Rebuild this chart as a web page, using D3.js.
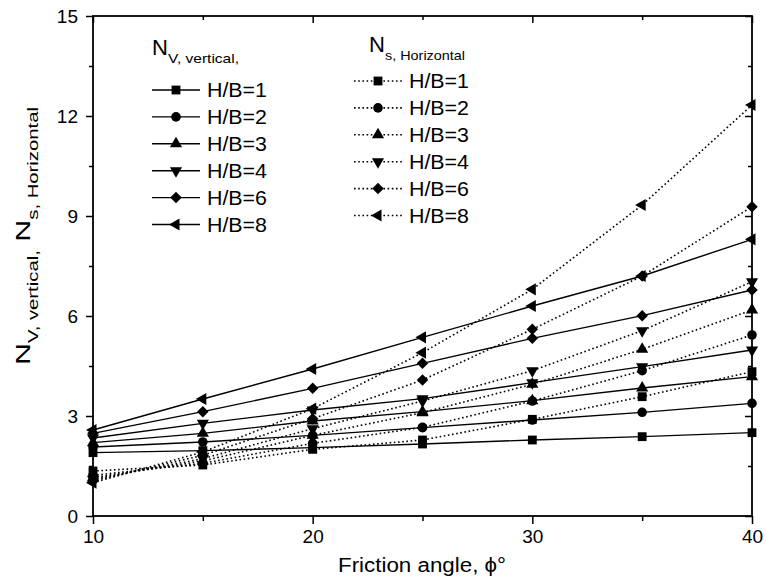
<!DOCTYPE html>
<html>
<head>
<meta charset="utf-8">
<script src="https://cdn.jsdelivr.net/npm/d3@7"></script>
<style>
  html, body { margin: 0; padding: 0; background: #fff; }
  svg { display: block; font-family: "Liberation Sans", Arial, sans-serif; }
</style>
</head>
<body>
<svg id="chart" width="766" height="580"></svg>
<script>
// Friction angle (degrees)
const angles = [10, 15, 20, 25, 30, 35, 40];
const ratios = ["H/B=1", "H/B=2", "H/B=3", "H/B=4", "H/B=6", "H/B=8"];

// Vertical factor N_V for each H/B ratio
const nvHB1 = [1.90, 1.96, 2.05, 2.16, 2.28, 2.38, 2.50];
const nvHB2 = [2.07, 2.22, 2.42, 2.65, 2.88, 3.11, 3.38];
const nvHB3 = [2.20, 2.48, 2.85, 3.13, 3.46, 3.84, 4.18];
const nvHB4 = [2.34, 2.78, 3.18, 3.52, 4.00, 4.48, 4.98];
const nvHB6 = [2.48, 3.13, 3.83, 4.58, 5.33, 6.01, 6.78];
const nvHB8 = [2.58, 3.51, 4.41, 5.36, 6.30, 7.20, 8.30];

// Horizontal factor N_s for each H/B ratio
const nsHB1 = [1.35, 1.53, 2.00, 2.28, 2.90, 3.58, 4.33];
const nsHB2 = [1.22, 1.58, 2.18, 2.66, 3.45, 4.36, 5.43];
const nsHB3 = [1.15, 1.65, 2.42, 3.10, 3.95, 5.00, 6.18];
const nsHB4 = [1.10, 1.72, 2.62, 3.45, 4.36, 5.56, 7.03];
const nsHB6 = [1.05, 1.82, 2.92, 4.08, 5.60, 7.20, 9.28];
const nsHB8 = [1.00, 1.92, 3.22, 4.90, 6.80, 9.33, 12.33];

const xTicks = [10, 20, 30, 40];
const yTicks = [0, 3, 6, 9, 12, 15];

const vertical = [nvHB1, nvHB2, nvHB3, nvHB4, nvHB6, nvHB8];
const horizontal = [nsHB1, nsHB2, nsHB3, nsHB4, nsHB6, nsHB8];

const svg = d3.select("#chart");
const plotL = 93, plotR = 752, plotT = 16, plotB = 516;

const x = d3.scaleLinear().domain([10, 40]).range([plotL, plotR]);
const y = d3.scaleLinear().domain([0, 15]).range([plotB, plotT]);

// marker shapes: square, circle, up/down triangle, diamond, left triangle
const markers = [
  { type: d3.symbolSquare, size: 78, rot: 0 },
  { type: d3.symbolCircle, size: 72, rot: 0 },
  { type: d3.symbolTriangle, size: 64, rot: 0 },
  { type: d3.symbolTriangle, size: 64, rot: 180 },
  { type: d3.symbolSquare, size: 66, rot: 45 },
  { type: d3.symbolTriangle, size: 64, rot: -90 }
];
function drawMarker(g, m, cx, cy) {
  g.append("path")
    .attr("d", d3.symbol().type(m.type).size(m.size)())
    .attr("transform", `translate(${cx},${cy}) rotate(${m.rot})`)
    .attr("fill", "#000");
}

const line = d3.line().x((d, i) => x(angles[i])).y(d => y(d));
const plot = svg.append("g");

function drawSeries(values, m, dotted) {
  plot.append("path")
    .datum(values)
    .attr("d", line)
    .attr("fill", "none")
    .attr("stroke", "#000")
    .attr("stroke-width", dotted ? 1.6 : 1.4)
    .attr("stroke-dasharray", dotted ? "1.6,2.6" : null);
  values.forEach((v, i) => drawMarker(plot, m, x(angles[i]), y(v)));
}
horizontal.forEach((vals, k) => drawSeries(vals, markers[k], true));
vertical.forEach((vals, k) => drawSeries(vals, markers[k], false));

// axes: outward ticks on bottom/left, inward mirrored ticks on top/right
const xMinor = [15, 25, 35];
const yMinor = [1.5, 4.5, 7.5, 10.5, 13.5];
function axisGroup(gen, tx, ty) {
  const g = svg.append("g").attr("transform", `translate(${tx},${ty})`).call(gen);
  g.select(".domain").remove();
  g.selectAll("line").attr("stroke", "#000").attr("stroke-width", 1.5);
  return g;
}
const bx = axisGroup(d3.axisBottom(x).tickValues(xTicks).tickSize(8).tickPadding(6).tickFormat(d3.format("d")), 0, plotB);
bx.selectAll("text").attr("font-size", 19).attr("fill", "#000");
axisGroup(d3.axisBottom(x).tickValues(xMinor).tickSize(5).tickFormat(""), 0, plotB);
const ly = axisGroup(d3.axisLeft(y).tickValues(yTicks).tickSize(7).tickPadding(8).tickFormat(d3.format("d")), plotL, 0);
ly.selectAll("text").attr("font-size", 19).attr("fill", "#000");
axisGroup(d3.axisLeft(y).tickValues(yMinor).tickSize(4).tickFormat(""), plotL, 0);
axisGroup(d3.axisBottom(x).tickValues(xTicks).tickSize(7).tickFormat(""), 0, plotT);
axisGroup(d3.axisBottom(x).tickValues(xMinor).tickSize(4).tickFormat(""), 0, plotT);
axisGroup(d3.axisLeft(y).tickValues(yTicks).tickSize(7).tickFormat(""), plotR, 0);
axisGroup(d3.axisLeft(y).tickValues(yMinor).tickSize(4).tickFormat(""), plotR, 0);

svg.append("rect")
  .attr("x", plotL).attr("y", plotT)
  .attr("width", plotR - plotL).attr("height", plotB - plotT)
  .attr("fill", "none").attr("stroke", "#000").attr("stroke-width", 1.8);

// axis titles
svg.append("text")
  .attr("x", 338).attr("y", 572)
  .attr("font-size", 20)
  .attr("textLength", 168).attr("lengthAdjust", "spacingAndGlyphs")
  .text("Friction angle, \u03d5\u00b0");

// y title, widened along its baseline
const yl = svg.append("text")
  .attr("transform", "translate(30,236) rotate(-90) scale(1.45,1)")
  .attr("text-anchor", "middle").attr("font-size", 21);
yl.append("tspan").text("N");
yl.append("tspan").attr("font-size", 14).attr("dy", 8).text("V, vertical,");
yl.append("tspan").attr("dy", -8).text(" N");
yl.append("tspan").attr("font-size", 14).attr("dy", 8).text("s, Horizontal");

// legends: a title with a subscript, then one row per H/B ratio
function legend(title, sub, subLen, tx, ty, lx, rowY, dotted) {
  svg.append("text").attr("x", tx).attr("y", ty).attr("font-size", 22).text(title);
  svg.append("text")
    .attr("x", tx + 16).attr("y", ty + 8)
    .attr("font-size", 13)
    .attr("textLength", subLen).attr("lengthAdjust", "spacingAndGlyphs")
    .text(sub);
  const lg = svg.append("g");
  ratios.forEach((r, k) => {
    const ry = rowY + k * 26.9;
    lg.append("line")
      .attr("x1", lx).attr("x2", lx + 48).attr("y1", ry).attr("y2", ry)
      .attr("stroke", "#000")
      .attr("stroke-width", dotted ? 1.6 : 1.4)
      .attr("stroke-dasharray", dotted ? "1.6,2.6" : null);
    drawMarker(lg, markers[k], lx + 24, ry);
    lg.append("text").attr("x", lx + 55).attr("y", ry + 7)
      .attr("font-size", 19.5)
      .attr("textLength", 60).attr("lengthAdjust", "spacingAndGlyphs")
      .text(r);
  });
}
legend("N", "V, vertical,", 71, 152, 55, 152, 90, false);
legend("N", "s, Horizontal", 80, 369, 52, 354, 81, true);
</script>
</body>
</html>
